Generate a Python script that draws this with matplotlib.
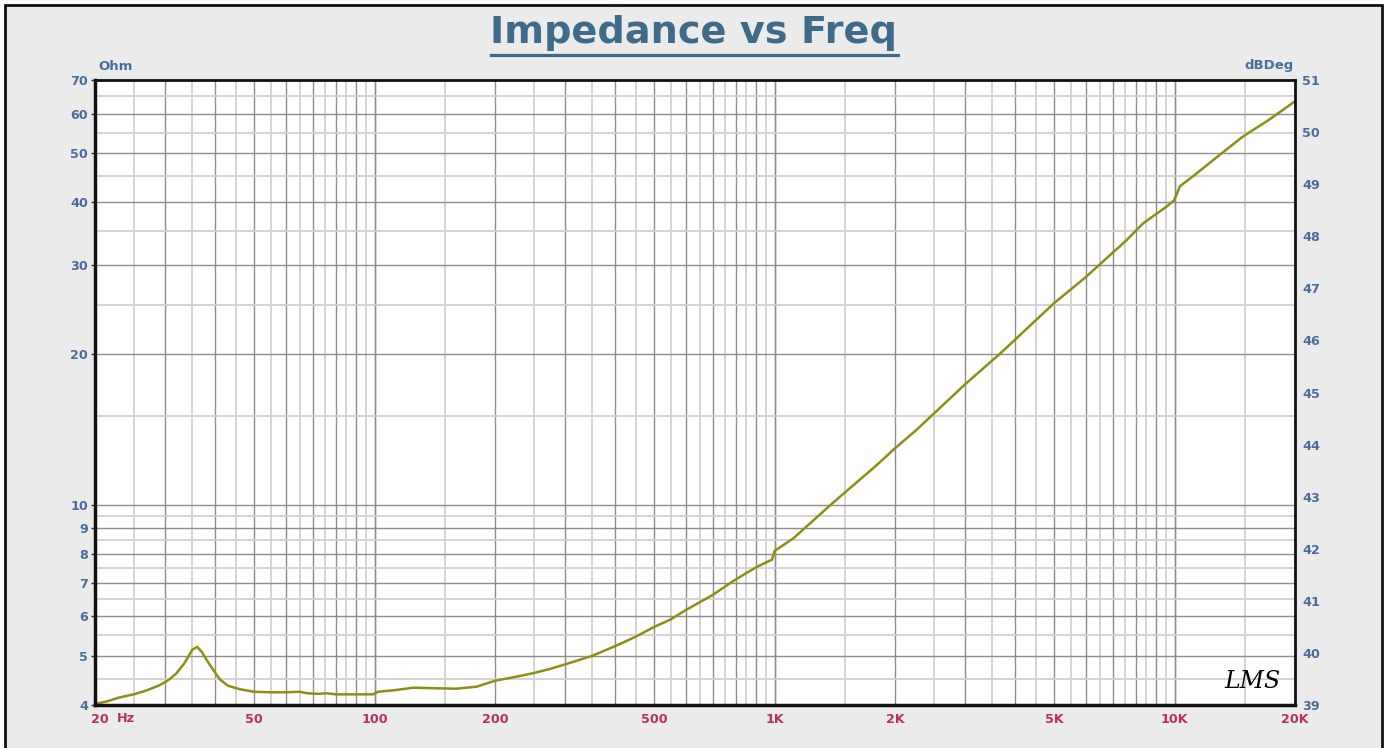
import numpy as np
import matplotlib
matplotlib.use("Agg")
import matplotlib.pyplot as plt
from matplotlib import font_manager as fm
from matplotlib.patches import Rectangle
from matplotlib.lines import Line2D
from matplotlib.ticker import FixedLocator, NullLocator
from matplotlib.transforms import ScaledTranslation

# ---- data ----
freq_hz = [20, 21.5, 23, 25, 27, 29, 30.5, 32, 33.5, 35, 36, 37, 38, 39.5, 41, 43, 46,
           50, 55, 60, 65, 68, 72, 76, 80, 90, 99, 102, 112, 125, 140, 160, 180,
           200, 225, 250, 275, 300, 350, 400, 450, 500, 550, 600, 700, 800, 900,
           970, 985, 1000, 1114, 1400, 1800, 2000, 2263, 3000, 3664, 5000, 5970,
           7580, 8340, 9550, 9960, 10150, 10300, 11100, 13100, 14800, 17200, 20000]
impedance_ohm = [4.02, 4.07, 4.14, 4.20, 4.28, 4.38, 4.48, 4.63, 4.85, 5.15, 5.22, 5.10,
                 4.92, 4.70, 4.50, 4.37, 4.30, 4.25, 4.24, 4.24, 4.25, 4.22, 4.21, 4.22,
                 4.20, 4.20, 4.20, 4.25, 4.28, 4.33, 4.32, 4.31, 4.35, 4.47, 4.55, 4.63,
                 4.72, 4.82, 5.01, 5.24, 5.47, 5.72, 5.92, 6.18, 6.62, 7.11, 7.52, 7.74,
                 7.78, 8.10, 8.58, 10.1, 12.0, 12.96, 14.1, 17.4, 20.0, 25.2, 28.3,
                 33.6, 36.3, 39.2, 40.3, 41.7, 43.0, 45.0, 50.0, 54.0, 58.3, 63.5]

x_tick_vals = [20, 50, 100, 200, 500, 1000, 2000, 5000, 10000, 20000]
x_tick_labels = ["20", "50", "100", "200", "500", "1K", "2K", "5K", "10K", "20K"]
y_tick_vals = [4, 5, 6, 7, 8, 9, 10, 20, 30, 40, 50, 60, 70]
y_tick_labels = ["4", "5", "6", "7", "8", "9", "10", "20", "30", "40", "50", "60", "70"]
y2_tick_vals = list(range(39, 52))

# ---- styling ----
W, H, DPI = 1388, 748, 100
BLUE = "#4a6d9c"
CRIMSON = "#b8305e"
TITLE_C = "#3f6b8a"
LINE_C = "#8e8e16"
plt.rcParams["font.family"] = ["DejaVu Sans"]


def fp(size):
    return fm.FontProperties(family="DejaVu Sans", weight="bold", size=size)

fig = plt.figure(figsize=(W / DPI, H / DPI), dpi=DPI, facecolor="white")


def px(x, y):
    return x / W, 1 - y / H

bx0, by0 = px(5, 760)
bx1, by1 = px(1382, 5)
fig.patches.append(Rectangle((bx0, by0), bx1 - bx0, by1 - by0, transform=fig.transFigure,
                             facecolor="#ebebeb", edgecolor="#111111", linewidth=2.0, zorder=-5))

L, R, T, B = 95, 1295, 80, 705
ax = fig.add_axes([L / W, 1 - B / H, (R - L) / W, (B - T) / H])
ax.set_zorder(1)
ax.set_facecolor("white")
ax.set_xscale("log")
ax.set_yscale("log")
ax.set_xlim(20, 20000)
ax.set_ylim(4, 70)

# grid lines
DARK, LIGHT = "#8e8e8e", "#d0d0d0"
for dec in [10, 100, 1000, 10000]:
    for m in np.arange(1, 10.01, 0.5):
        f = m * dec
        if 20 < f < 20000:
            dark = float(m).is_integer()
            ax.axvline(f, color=DARK if dark else LIGHT, lw=1.0 if dark else 1.3, zorder=1)
for z in np.arange(4.5, 10, 0.5):
    dark = float(z).is_integer()
    ax.axhline(z, color=DARK if dark else LIGHT, lw=1.0 if dark else 1.3, zorder=1)
for z in np.arange(10, 70, 5):
    dark = (z % 10 == 0)
    ax.axhline(z, color=DARK if dark else LIGHT, lw=1.0 if dark else 1.3, zorder=1)

ax.plot(freq_hz, impedance_ohm, color=LINE_C, lw=1.8, zorder=3, solid_joinstyle="round")

ax.xaxis.set_major_locator(FixedLocator(x_tick_vals))
ax.set_xticklabels(x_tick_labels)
ax.xaxis.set_minor_locator(NullLocator())
ax.yaxis.set_major_locator(FixedLocator(y_tick_vals))
ax.set_yticklabels(y_tick_labels)
ax.yaxis.set_minor_locator(NullLocator())
ax.tick_params(axis="x", length=0, pad=6, labelcolor=CRIMSON)
ax.tick_params(axis="y", length=3, width=1, pad=2, labelcolor=BLUE, color="#333333")
for lab in ax.get_xticklabels() + ax.get_yticklabels():
    lab.set_fontproperties(fp(9.2))
# nudge the first frequency label right, as in the reference
first = ax.get_xticklabels()[0]
first.set_transform(first.get_transform() + ScaledTranslation(5 / DPI, 0, fig.dpi_scale_trans))

for side, w in [("left", 2.5), ("bottom", 2.5), ("top", 2.0), ("right", 2.0)]:
    ax.spines[side].set_linewidth(w)
    ax.spines[side].set_color("#111111")
    ax.spines[side].set_zorder(5)

ax2 = ax.twinx()
ax2.set_ylim(39, 51)
ax2.yaxis.set_major_locator(FixedLocator(y2_tick_vals))
ax2.tick_params(axis="y", length=0, pad=5, labelcolor=BLUE)
for lab in ax2.get_yticklabels():
    lab.set_fontproperties(fp(9.2))
for s in ax2.spines.values():
    s.set_visible(False)

# axis annotations
fig.text(98 / W, 1 - 66 / H, "Ohm", color=BLUE, fontproperties=fp(9.5), va="center", ha="left")
fig.text(1294 / W, 1 - 66 / H, "dBDeg", color=BLUE, fontproperties=fp(9.5), va="center", ha="right")
fig.text(126 / W, 1 - 718 / H, "Hz", color=CRIMSON, fontproperties=fp(9.2), va="center", ha="center")

# title with underline
t = fig.text(694 / W, 1 - 43 / H, "Impedance vs Freq", color=TITLE_C, fontproperties=fp(27.5),
             ha="center", va="baseline")
fig.canvas.draw()
bb = t.get_window_extent()
fig.lines.append(Line2D([bb.x0 / W, bb.x1 / W], [1 - 55 / H, 1 - 55 / H], transform=fig.transFigure,
                        color=TITLE_C, lw=2.3))

# LMS logo
ax.text(0.9875, 0.028, "LMS", transform=ax.transAxes, fontsize=17, fontstyle="italic",
        family=["DejaVu Serif"], color="black", ha="right", va="baseline", zorder=6)

fig.savefig("out.png", dpi=DPI, facecolor="white")
